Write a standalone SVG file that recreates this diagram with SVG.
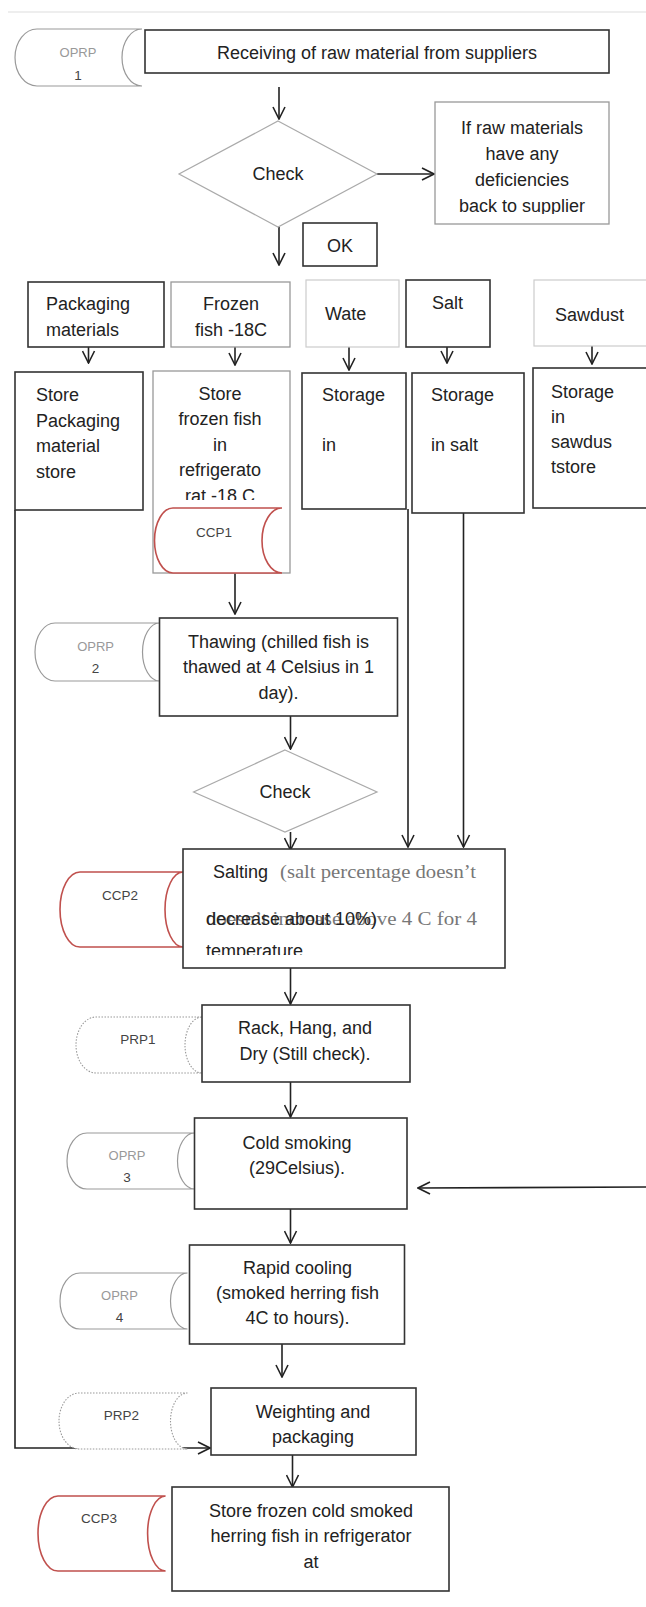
<svg xmlns="http://www.w3.org/2000/svg" width="646" height="1607" viewBox="0 0 646 1607">
<style>
text{font-family:"Liberation Sans",Arial,sans-serif;fill:#222;font-size:18px}
.c{text-anchor:middle}
.lbl{font-size:13.5px;fill:#444;text-anchor:middle}
.lg{font-size:13px;fill:#999;text-anchor:middle}
.serif{font-family:"Liberation Serif","Times New Roman",serif;fill:#777;font-size:19px}
.box{fill:#fff;stroke:#333;stroke-width:1.6}
.gbox{fill:#fff;stroke:#999;stroke-width:1.3}
.lbox{fill:#fff;stroke:#ccc;stroke-width:1.2}
.dia{fill:#fff;stroke:#aaa;stroke-width:1.2}
.sd{fill:#fff;stroke:#999;stroke-width:1.2}
.red{fill:#fff;stroke:#c0504d;stroke-width:1.6}
.dot{fill:#fff;stroke:#999;stroke-width:1.1;stroke-dasharray:1.5 1.5}
.con{fill:none;stroke:#222;stroke-width:1.6}
</style>
<defs>
<marker id="ah" viewBox="0 0 14 14" refX="13" refY="7" markerWidth="14" markerHeight="14" markerUnits="userSpaceOnUse" orient="auto">
<path d="M1,1 L13,7 L1,13" fill="none" stroke="#222" stroke-width="1.6"/>
</marker>
<clipPath id="cp1"><rect x="430" y="100" width="180" height="114"/></clipPath>
<clipPath id="cp2"><rect x="150" y="370" width="145" height="130"/></clipPath>
<clipPath id="cp3"><rect x="158" y="616" width="242" height="87"/></clipPath>
<clipPath id="cp4"><rect x="182" y="847" width="325" height="108"/></clipPath>
</defs>
<line x1="8" y1="12" x2="646" y2="12" stroke="#ddd" stroke-width="1.2"/>

<g id="connectors">
<line class="con" x1="279" y1="87" x2="279" y2="119" marker-end="url(#ah)"/>
<line class="con" x1="377" y1="174" x2="434" y2="174" marker-end="url(#ah)"/>
<line class="con" x1="279" y1="227" x2="279" y2="265" marker-end="url(#ah)"/>
<line class="con" x1="88.5" y1="347" x2="88.5" y2="363" marker-end="url(#ah)"/>
<line class="con" x1="235" y1="347" x2="235" y2="365" marker-end="url(#ah)"/>
<line class="con" x1="349" y1="347" x2="349" y2="370" marker-end="url(#ah)"/>
<line class="con" x1="447" y1="347" x2="447" y2="363" marker-end="url(#ah)"/>
<line class="con" x1="592" y1="346" x2="592" y2="364" marker-end="url(#ah)"/>
<line class="con" x1="408" y1="509" x2="408" y2="847" marker-end="url(#ah)"/>
<line class="con" x1="463.5" y1="513" x2="463.5" y2="847" marker-end="url(#ah)"/>
<polyline class="con" points="15,510 15,1448 210,1448" marker-end="url(#ah)"/>
<line class="con" x1="235" y1="573" x2="235" y2="614" marker-end="url(#ah)"/>
<line class="con" x1="290.5" y1="716" x2="290.5" y2="749" marker-end="url(#ah)"/>
<line class="con" x1="290.5" y1="832" x2="290.5" y2="850" marker-end="url(#ah)"/>
<line class="con" x1="290.5" y1="968" x2="290.5" y2="1004" marker-end="url(#ah)"/>
<line class="con" x1="290.5" y1="1082" x2="290.5" y2="1117" marker-end="url(#ah)"/>
<line class="con" x1="646" y1="1187" x2="418" y2="1188" marker-end="url(#ah)"/>
<line class="con" x1="290.5" y1="1209" x2="290.5" y2="1243" marker-end="url(#ah)"/>
<line class="con" x1="282" y1="1344" x2="282" y2="1377" marker-end="url(#ah)"/>
<line class="con" x1="292.5" y1="1455" x2="292.5" y2="1487" marker-end="url(#ah)"/>
</g>

<g id="oprp1">
<path class="sd" d="M142,29 L37,29 A22,28.5 0 0 0 37,86 L142,86 A20,28.5 0 0 1 142,29 Z"/>
<text class="lg" x="78" y="57">OPRP</text>
<text class="lbl" x="78" y="80">1</text>
</g>
<g id="receiving">
<rect class="box" x="145" y="30" width="464" height="43"/>
<text class="c" x="377" y="59" font-size="18.5">Receiving of raw material from suppliers</text>
</g>
<g id="check1">
<polygon class="dia" points="278,121 377,174 278,227 179,174"/>
<text class="c" x="278" y="180">Check</text>
</g>
<g id="back-to-supplier">
<rect class="gbox" x="435" y="102" width="174" height="122" stroke="#aaa"/>
<g clip-path="url(#cp1)">
<text class="c" x="522" y="134">If raw materials</text>
<text class="c" x="522" y="160">have any</text>
<text class="c" x="522" y="186">deficiencies</text>
<text class="c" x="522" y="212">back to supplier</text>
</g>
</g>
<g id="ok">
<rect class="box" x="303" y="223" width="74" height="43" stroke="#444"/>
<text class="c" x="340" y="252">OK</text>
</g>

<g id="packaging-materials">
<rect class="box" x="28" y="282" width="136" height="65" stroke="#444"/>
<text x="46" y="310">Packaging</text>
<text x="46" y="336">materials</text>
</g>
<g id="frozen-fish">
<rect class="gbox" x="171" y="282" width="119" height="65"/>
<text class="c" x="231" y="310">Frozen</text>
<text class="c" x="231" y="336">fish -18C</text>
</g>
<g id="water">
<rect class="lbox" x="306" y="280" width="93" height="67"/>
<text x="325" y="320">Wate</text>
</g>
<g id="salt">
<rect class="box" x="406" y="280" width="84" height="67" stroke="#222"/>
<text x="432" y="309">Salt</text>
</g>
<g id="sawdust">
<rect class="lbox" x="534" y="280" width="120" height="66"/>
<text x="555" y="321">Sawdust</text>
</g>

<g id="store-packaging">
<rect class="box" x="15" y="372" width="128" height="138" stroke="#222" stroke-width="1.8"/>
<text x="36" y="401">Store</text>
<text x="36" y="427">Packaging</text>
<text x="36" y="452">material</text>
<text x="36" y="478">store</text>
</g>
<g id="store-frozen">
<rect class="gbox" x="153" y="371" width="137" height="202" stroke="#888"/>
<g clip-path="url(#cp2)">
<text class="c" x="220" y="400">Store</text>
<text class="c" x="220" y="425">frozen fish</text>
<text class="c" x="220" y="451">in</text>
<text class="c" x="220" y="476">refrigerato</text>
<text class="c" x="220" y="502">rat -18 C</text>
</g>
</g>
<g id="ccp1">
<path class="red" d="M282,508 L173,508 A18.5,32.5 0 0 0 173,573 L282,573 A20,32.5 0 0 1 282,508 Z"/>
<text class="lbl" x="214" y="537">CCP1</text>
</g>
<g id="storage-water">
<rect class="box" x="302" y="373" width="104" height="136" stroke="#444"/>
<text x="322" y="401">Storage</text>
<text x="322" y="451">in</text>
</g>
<g id="storage-salt">
<rect class="box" x="412" y="373" width="112" height="140" stroke="#777"/>
<text x="431" y="401">Storage</text>
<text x="431" y="451">in salt</text>
</g>
<g id="storage-sawdust">
<rect class="box" x="533" y="368" width="120" height="140" stroke="#444"/>
<text x="551" y="398">Storage</text>
<text x="551" y="423">in</text>
<text x="551" y="448">sawdus</text>
<text x="551" y="473">tstore</text>
</g>

<g id="oprp2">
<path class="sd" d="M159.5,623 L55,623 A20,29 0 0 0 55,681 L159.5,681 A17,29 0 0 1 159.5,623 Z"/>
<text class="lg" x="95.6" y="651">OPRP</text>
<text class="lbl" x="95.6" y="673">2</text>
</g>
<g id="thawing">
<rect class="box" x="159.5" y="618" width="238" height="98"/>
<g clip-path="url(#cp3)">
<text class="c" x="278.5" y="648">Thawing (chilled fish is</text>
<text class="c" x="278.5" y="673">thawed at 4 Celsius in 1</text>
<text class="c" x="278.5" y="699">day).</text>
</g>
</g>
<g id="check2">
<polygon class="dia" points="285,750 377,792 285,832 193.6,792"/>
<text class="c" x="285" y="798">Check</text>
</g>

<g id="ccp2">
<path class="red" d="M183,872 L80,872 A20,37.5 0 0 0 80,947 L183,947 A18,37.5 0 0 1 183,872 Z"/>
<text class="lbl" x="120" y="900">CCP2</text>
</g>
<g id="salting">
<rect class="box" x="183" y="849" width="322" height="119"/>
<g clip-path="url(#cp4)">
<text x="213" y="878">Salting</text>
<text class="serif" x="280" y="878" textLength="196" lengthAdjust="spacingAndGlyphs">(salt percentage doesn’t</text>
<text class="serif" x="206" y="925" textLength="271" lengthAdjust="spacingAndGlyphs">doesn’t increase above 4 C for 4</text>
<text x="206" y="925" textLength="171" lengthAdjust="spacingAndGlyphs">decrease about 10%)</text>
<text x="206" y="957">temperature</text>
</g>
</g>

<g id="prp1">
<path class="dot" d="M202,1017 L96,1017 A20,28 0 0 0 96,1073 L202,1073 A17,28 0 0 1 202,1017 Z"/>
<text class="lbl" x="138" y="1044">PRP1</text>
</g>
<g id="rack">
<rect class="box" x="202" y="1005" width="208" height="77"/>
<text class="c" x="305" y="1034">Rack, Hang, and</text>
<text class="c" x="305" y="1060">Dry (Still check).</text>
</g>

<g id="oprp3">
<path class="sd" d="M194.5,1133 L87,1133 A20,28 0 0 0 87,1189 L194.5,1189 A17,28 0 0 1 194.5,1133 Z"/>
<text class="lg" x="127" y="1160">OPRP</text>
<text class="lbl" x="127" y="1182">3</text>
</g>
<g id="cold-smoking">
<rect class="box" x="194.5" y="1118" width="212.5" height="91" stroke="#444"/>
<text class="c" x="297" y="1149">Cold smoking</text>
<text class="c" x="297" y="1174">(29Celsius).</text>
</g>

<g id="oprp4">
<path class="sd" d="M187.5,1273 L80,1273 A20,28 0 0 0 80,1329 L187.5,1329 A17,28 0 0 1 187.5,1273 Z"/>
<text class="lg" x="119.5" y="1300">OPRP</text>
<text class="lbl" x="119.5" y="1322">4</text>
</g>
<g id="rapid-cooling">
<rect class="box" x="189.5" y="1245" width="215" height="99" stroke="#444"/>
<text class="c" x="297.5" y="1274">Rapid cooling</text>
<text class="c" x="297.5" y="1299">(smoked herring fish</text>
<text class="c" x="297.5" y="1324">4C to hours).</text>
</g>

<g id="prp2">
<path class="dot" d="M187.5,1393 L79,1393 A20,28 0 0 0 79,1449 L187.5,1449 A17,28 0 0 1 187.5,1393 Z"/>
<text class="lbl" x="121.5" y="1420">PRP2</text>
</g>
<g id="weighting">
<rect class="box" x="211" y="1388" width="205" height="67" stroke-width="1.8"/>
<text class="c" x="313" y="1418">Weighting and</text>
<text class="c" x="313" y="1443">packaging</text>
</g>

<g id="ccp3">
<path class="red" d="M165.6,1496 L58,1496 A20,37.5 0 0 0 58,1571 L165.6,1571 A18,37.5 0 0 1 165.6,1496 Z"/>
<text class="lbl" x="99" y="1523">CCP3</text>
</g>
<g id="final-store">
<rect class="box" x="172" y="1487" width="277" height="104" stroke-width="1.8"/>
<text class="c" x="311" y="1517">Store frozen cold smoked</text>
<text class="c" x="311" y="1542">herring fish in refrigerator</text>
<text class="c" x="311" y="1568">at</text>
</g>
</svg>
